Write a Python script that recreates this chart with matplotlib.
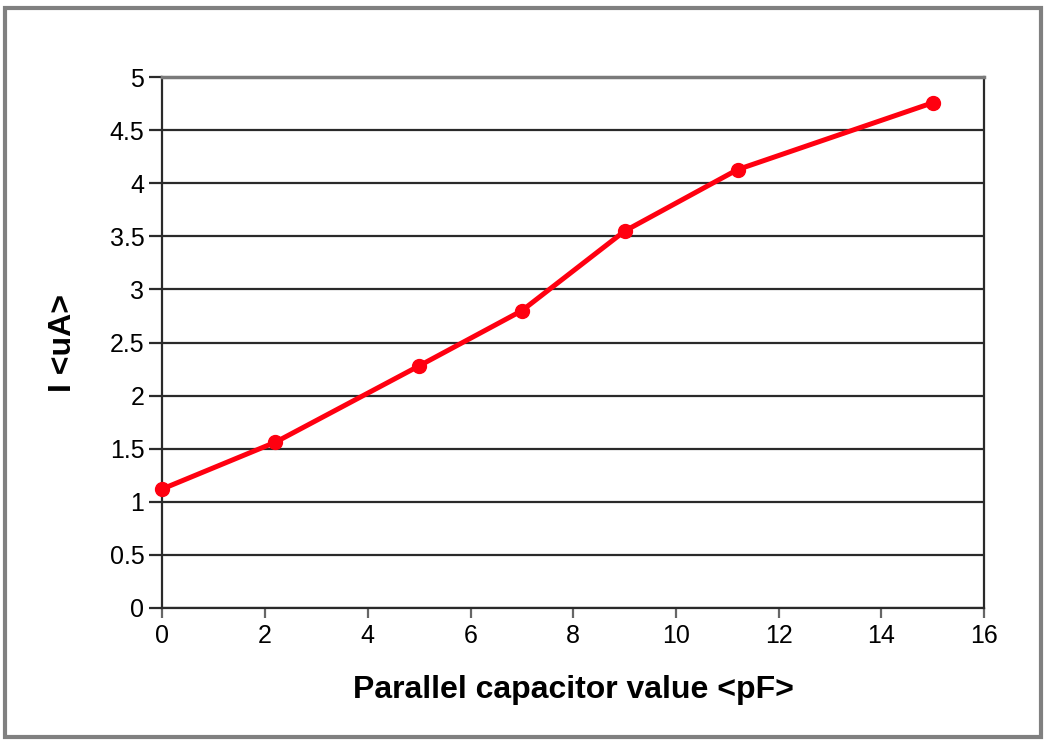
import matplotlib
matplotlib.use('Agg')
import matplotlib.pyplot as plt
from matplotlib.patches import Rectangle

plt.rcParams['font.family'] = ['Liberation Sans', 'DejaVu Sans']

# capacitor value (pF) vs current (uA)
cap_pf = [0, 2.2, 5, 7, 9, 11.2, 15]
current_ua = [1.12, 1.56, 2.28, 2.80, 3.55, 4.13, 4.76]
x_ticks = [0, 2, 4, 6, 8, 10, 12, 14, 16]
y_ticks = [0, 0.5, 1, 1.5, 2, 2.5, 3, 3.5, 4, 4.5, 5]

fig = plt.figure(figsize=(10.46, 7.4), dpi=100)
fig.patches.append(Rectangle((0.005, 0.004), 0.99, 0.985, transform=fig.transFigure,
                             fill=False, edgecolor='#808080', linewidth=3))

ax = fig.add_axes([0.1553, 0.1788, 0.7854, 0.7167])
ax.set_xlim(0, 16)
ax.set_ylim(0, 5)
ax.set_xticks(x_ticks)
ax.set_yticks(y_ticks)
ax.set_yticklabels([f'{v:g}' for v in y_ticks])
ax.grid(axis='y', color='#2a2a2a', linewidth=1.6)
ax.set_axisbelow(True)

for s in ['left', 'right', 'bottom']:
    ax.spines[s].set_color('#2a2a2a')
    ax.spines[s].set_linewidth(1.6)
ax.spines['top'].set_color('#7a7a7a')
ax.spines['top'].set_linewidth(2.5)

ax.tick_params(axis='both', labelsize=18, width=1.6)
ax.tick_params(axis='x', color='#666666', length=7, pad=5)
ax.tick_params(axis='y', color='#2a2a2a', length=9.5, pad=3.5)

ax.plot(cap_pf, current_ua, color='#ff0010', linewidth=3.6, marker='o', markersize=10,
        clip_on=False, zorder=5)

ax.set_xlabel('Parallel capacitor value <pF>', fontsize=23, fontweight='bold', labelpad=19)
ax.set_ylabel('I <uA>', fontsize=23, fontweight='bold', labelpad=23)

fig.savefig('out.png', dpi=100)
